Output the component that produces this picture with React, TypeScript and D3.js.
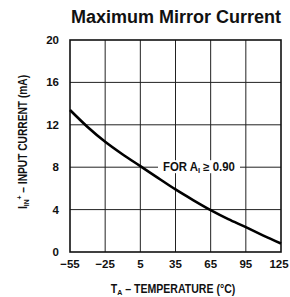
import React from "react";
import * as d3 from "d3";

const temps = [-55, -40, -25, -10, 5, 20, 35, 50, 65, 80, 95, 110, 125];
const current = [13.4, 11.8, 10.4, 9.2, 8.1, 7.0, 5.9, 4.9, 3.95, 3.1, 2.35, 1.55, 0.8];
const xTicks = [-55, -25, 5, 35, 65, 95, 125];
const yTicks = [0, 4, 8, 12, 16, 20];

const W = 290;
const H = 297;
const M = { left: 70, right: 9, top: 40, bottom: 45 };
const FONT = "'Liberation Sans Narrow', 'Liberation Sans', Arial, sans-serif";

export default function App() {
  const x = d3.scaleLinear().domain([-55, 125]).range([M.left, W - M.right]);
  const y = d3.scaleLinear().domain([0, 20]).range([H - M.bottom, M.top]);
  const line = d3
    .line<number>()
    .x((_, i) => x(temps[i]))
    .y((d) => y(d))
    .curve(d3.curveMonotoneX);
  const path = line(current) || "";
  const x0 = x(-55), x1 = x(125), y0 = y(0), y1 = y(20);
  const labelY = y(8);
  return (
    <svg width={W} height={H} style={{ position: "absolute", left: 0, top: 0, background: "#fff" }}>
      <rect x={0} y={0} width={W} height={H} fill="#fff" />
      <text x={176} y={23} textAnchor="middle" fontFamily="'Liberation Sans', Arial, sans-serif" fontWeight="bold" fontSize={18} textLength={210} lengthAdjust="spacingAndGlyphs" fill="#111">
        Maximum Mirror Current
      </text>
      {xTicks.slice(1, -1).map((t) => (
        <line key={"vx" + t} x1={x(t)} x2={x(t)} y1={y1} y2={y0} stroke="#222" strokeWidth={1} />
      ))}
      {yTicks.slice(1, -1).map((t) =>
        t === 8 ? (
          <g key={"hy" + t}>
            <line x1={x0} x2={158} y1={y(t)} y2={y(t)} stroke="#222" strokeWidth={1} />
            <line x1={240} x2={x1} y1={y(t)} y2={y(t)} stroke="#222" strokeWidth={1} />
          </g>
        ) : (
          <line key={"hy" + t} x1={x0} x2={x1} y1={y(t)} y2={y(t)} stroke="#222" strokeWidth={1} />
        )
      )}
      <rect x={x0} y={y1} width={x1 - x0} height={y0 - y1} fill="none" stroke="#111" strokeWidth={1.6} />
      <path d={path} fill="none" stroke="#000" strokeWidth={2.6} />
      <rect x={159} y={labelY - 7} width={80} height={13} fill="#fff" />
      <g transform={`translate(163,${labelY + 4}) scale(0.95,1)`}>
        <text x={0} y={0} fontFamily={FONT} fontWeight="bold" fontSize={12} fill="#111">
          FOR A<tspan fontSize={8} dy={2}>I</tspan>
          <tspan dy={-2}> ≥ 0.90</tspan>
        </text>
      </g>
      {yTicks.map((t) => (
        <text key={"yl" + t} x={59} y={y(t) + 4} textAnchor="end" fontFamily={FONT} fontWeight="bold" fontSize={11.5} fill="#111">
          {t}
        </text>
      ))}
      {xTicks.map((t) => (
        <text key={"xl" + t} x={x(t) - (t === 125 ? 2 : 0)} y={268} textAnchor="middle" fontFamily={FONT} fontWeight="bold" fontSize={11.5} fill="#111">
          {t < 0 ? "\u2212" + Math.abs(t) : t}
        </text>
      ))}
      <g transform="translate(173,293) scale(0.88,1)">
        <text x={0} y={0} textAnchor="middle" fontFamily={FONT} fontWeight="bold" fontSize={12} fill="#111">
          T<tspan fontSize={8} dy={2}>A</tspan>
          <tspan dy={-2}> – TEMPERATURE (°C)</tspan>
        </text>
      </g>
      <g transform="translate(27,142) rotate(-90) scale(0.85,1)">
        <text x={0} y={0} textAnchor="middle" fontFamily={FONT} fontWeight="bold" fontSize={12} fill="#111">
          I<tspan fontSize={8} dy={2}>IN</tspan>
          <tspan fontSize={8} dy={-7}>+</tspan>
          <tspan dy={5}> – INPUT CURRENT (mA)</tspan>
        </text>
      </g>
    </svg>
  );
}
